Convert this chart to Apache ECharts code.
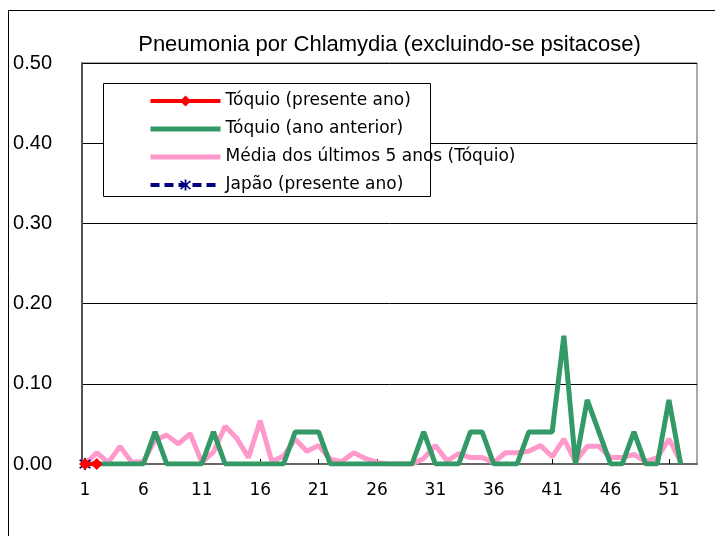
<!DOCTYPE html>
<html>
<head>
<meta charset="utf-8">
<script src="https://cdn.jsdelivr.net/npm/echarts@6/dist/echarts.min.js"></script>
<style>html,body{margin:0;padding:0;background:#fff}#c{width:715px;height:536px}</style>
</head>
<body>
<div id="c"></div>
<script>
const weeks = [1,2,3,4,5,6,7,8,9,10,11,12,13,14,15,16,17,18,19,20,21,22,23,24,25,26,27,28,29,30,31,32,33,34,35,36,37,38,39,40,41,42,43,44,45,46,47,48,49,50,51,52];
const tokyoCurrent = [0, 0];
const tokyoPrevious = [0,0,0,0,0,0,0.04,0,0,0,0,0.04,0,0,0,0,0,0,0.04,0.04,0.04,0,0,0,0,0,0,0,0,0.04,0,0,0,0.04,0.04,0,0,0,0.04,0.04,0.04,0.16,0,0.08,0.04,0,0,0.04,0,0,0.08,0];
const avg5Years = [0,0.014,0.002,0.022,0.002,0.003,0.03,0.036,0.025,0.038,0.002,0.015,0.047,0.032,0.008,0.054,0.003,0.01,0.031,0.016,0.023,0.006,0.003,0.014,0.007,0.002,0,0,0,0.007,0.023,0.004,0.013,0.008,0.008,0.002,0.014,0.014,0.016,0.023,0.009,0.031,0.003,0.022,0.022,0.008,0.008,0.012,0.003,0.008,0.031,0.003];
const japanCurrent = [0];
const xTickLabels = [1,6,11,16,21,26,31,36,41,46,51];
const seriesNames = ['Tóquio (presente ano)', 'Tóquio (ano anterior)', 'Média dos últimos 5 anos (Tóquio)', 'Japão (presente ano)'];
const titleText = 'Pneumonia por Chlamydia (excluindo-se psitacose)';

const pair = (vals) => vals.map((v, i) => [weeks[i], v]);
const asterisk = 'path://M-1,-8L1,-8L1,8L-1,8Z M-6.3,-4.9L-4.9,-6.3L6.3,4.9L4.9,6.3Z M4.9,-6.3L6.3,-4.9L-4.9,6.3L-6.3,4.9Z';

const chart = echarts.init(document.getElementById('c'), null, {renderer: 'canvas'});
chart.setOption({
  animation: false,
  backgroundColor: '#fff',
  grid: {left: 82, top: 63, right: 18, bottom: 72, show: true, borderColor: '#555', borderWidth: 1},
  graphic: [
    {type: 'rect', shape: {x: 8.5, y: 10.5, width: 730, height: 540}, style: {fill: 'none', stroke: '#000', lineWidth: 1}, z: -1},
    {type: 'text', x: 389.5, y: 45, style: {text: titleText, font: '22px "Liberation Sans"', fill: '#000', textAlign: 'center', textVerticalAlign: 'middle'}, z: 5},
    {type: 'rect', shape: {x: 103.5, y: 83.5, width: 327, height: 113}, style: {fill: '#fff', stroke: '#000', lineWidth: 1}, z: 3}
  ],
  legend: {
    orient: 'vertical', left: 148, top: 92, padding: 0, itemWidth: 70, itemHeight: 14, itemGap: 10,
    data: [
      {name: seriesNames[0], lineStyle: {width: 4}},
      {name: seriesNames[1], lineStyle: {width: 5}, itemStyle: {opacity: 0}},
      {name: seriesNames[2], lineStyle: {width: 5}, itemStyle: {opacity: 0}},
      {name: seriesNames[3], lineStyle: {width: 4}}
    ],
    textStyle: {fontFamily: 'DejaVu Sans', fontSize: 17, lineHeight: 18, color: '#000', padding: 0},
    z: 6
  },
  xAxis: {
    type: 'value', min: 0.743, max: 53.4,
    axisLine: {show: true, lineStyle: {color: '#666', width: 2}},
    axisTick: {show: true, inside: true, length: 5, lineStyle: {color: '#000'}, customValues: xTickLabels},
    axisLabel: {customValues: xTickLabels, fontFamily: 'DejaVu Sans', fontSize: 17, color: '#000', margin: 18},
    splitLine: {show: false}
  },
  yAxis: {
    type: 'value', min: 0, max: 0.5, interval: 0.1,
    axisLine: {show: true, lineStyle: {color: '#555', width: 2}},
    axisTick: {show: false},
    axisLabel: {formatter: (v) => v.toFixed(2), fontFamily: 'Liberation Sans', fontSize: 20, color: '#000', margin: 30},
    splitLine: {show: true, lineStyle: {color: '#000', width: 1}}
  },
  series: [
    {name: seriesNames[2], type: 'line', data: pair(avg5Years), symbol: 'none', lineStyle: {color: '#ff99cc', width: 5}, itemStyle: {color: '#ff99cc'}, z: 2},
    {name: seriesNames[1], type: 'line', data: pair(tokyoPrevious), symbol: 'none', lineStyle: {color: '#339966', width: 5}, itemStyle: {color: '#339966'}, z: 3},
    {name: seriesNames[3], type: 'line', data: pair(japanCurrent), symbol: asterisk, symbolSize: 12, lineStyle: {color: '#000080', width: 4, type: [9, 5]}, itemStyle: {color: '#000080'}, z: 4},
    {name: seriesNames[0], type: 'line', data: pair(tokyoCurrent), symbol: 'diamond', symbolSize: 12, lineStyle: {color: '#ff0000', width: 4}, itemStyle: {color: '#ff0000'}, z: 5}
  ]
});
</script>
</body>
</html>
